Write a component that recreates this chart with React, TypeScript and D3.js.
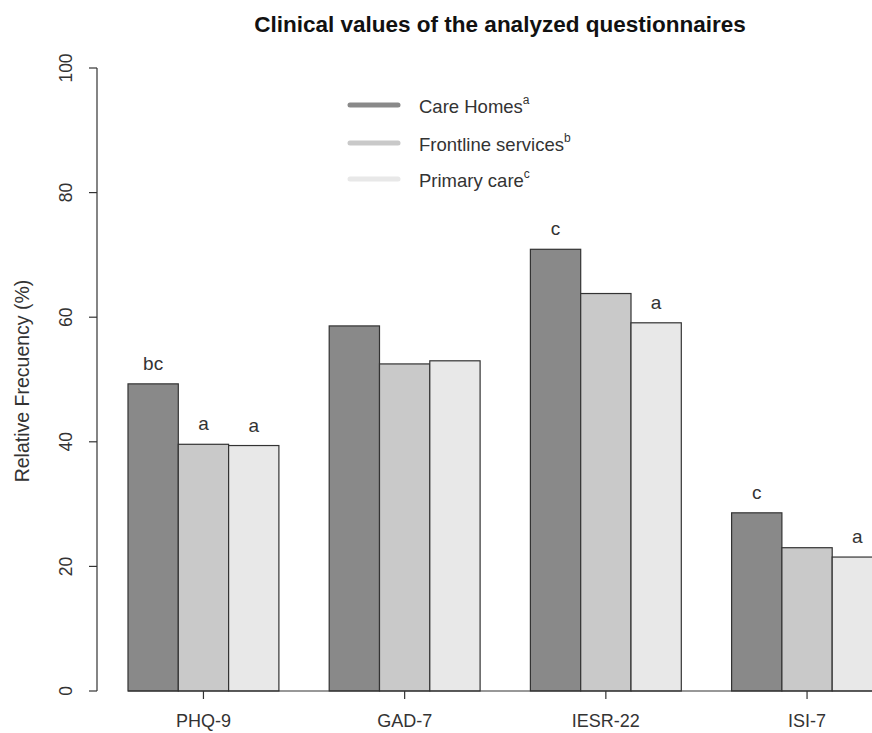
import React from "react";
import * as d3 from "d3";

const categories = ["PHQ-9", "GAD-7", "IESR-22", "ISI-7"];
const seriesNames = ["Care Homes", "Frontline services", "Primary care"];
const seriesSup = ["a", "b", "c"];
const careHomes = [49.3, 58.6, 70.9, 28.6];
const frontline = [39.6, 52.5, 63.8, 23.0];
const primary = [39.4, 53.0, 59.1, 21.5];
const sigCare = ["bc", "", "c", "c"];
const sigFront = ["a", "", "", ""];
const sigPrimary = ["a", "", "a", "a"];
const yTicks = [0, 20, 40, 60, 80, 100];

const colors = ["#898989", "#C9C9C9", "#E8E8E8"];
const W = 872;
const H = 733;
const FONT = "'Liberation Sans', Arial, sans-serif";
const TXT = "#333";

export default function App() {
  const series = [careHomes, frontline, primary];
  const sigs = [sigCare, sigFront, sigPrimary];
  const y = d3.scaleLinear().domain([0, 100]).range([691, 68]);
  // R barplot style: unit positions, 1 unit gap before each group
  const unit = 50.3;
  const x0 = 77.7;
  const xu = d3.scaleLinear().domain([0, 1]).range([x0, x0 + unit]);
  const barX = (g: number, s: number) => xu(g * 4 + 1 + s);
  const groupCenter = (g: number) => xu(g * 4 + 2.5);

  return (
    <svg width={W} height={H} style={{ display: "block", position: "absolute", left: 0, top: 0, background: "#fff" }} fontFamily={FONT}>
      <rect x={0} y={0} width={W} height={H} fill="#fff" />
      <text x={500} y={32} textAnchor="middle" fontSize={22.5} fontWeight="bold" fill="#111">
        Clinical values of the analyzed questionnaires
      </text>
      {/* bars */}
      {categories.map((c, g) =>
        series.map((vals, s) => (
          <rect
            key={c + s}
            x={barX(g, s)}
            y={y(vals[g])}
            width={unit}
            height={y(0) - y(vals[g])}
            fill={colors[s]}
            stroke="#333"
            strokeWidth={1.2}
          />
        ))
      )}
      {/* significance letters */}
      {categories.map((c, g) =>
        series.map((vals, s) =>
          sigs[s][g] ? (
            <text
              key={"sig" + c + s}
              x={barX(g, s) + unit / 2}
              y={y(vals[g]) - 14}
              textAnchor="middle"
              fontSize={19}
              fill={TXT}
            >
              {sigs[s][g]}
            </text>
          ) : null
        )
      )}
      {/* x baseline */}
      <line x1={barX(0, 0)} x2={W} y1={y(0)} y2={y(0)} stroke="#333" strokeWidth={1.2} />
      {/* x ticks and labels */}
      {categories.map((c, g) => (
        <g key={"xt" + c}>
          <line x1={groupCenter(g)} x2={groupCenter(g)} y1={y(0)} y2={y(0) + 8} stroke="#333" strokeWidth={1.2} />
          <text x={groupCenter(g)} y={727} textAnchor="middle" fontSize={18} fill={TXT}>
            {c}
          </text>
        </g>
      ))}
      {/* y axis */}
      <line x1={97} x2={97} y1={y(0)} y2={y(100)} stroke="#333" strokeWidth={1.2} />
      {yTicks.map((t) => (
        <g key={"yt" + t}>
          <line x1={89} x2={97} y1={y(t)} y2={y(t)} stroke="#333" strokeWidth={1.2} />
          <text
            transform={`translate(72,${y(t)}) rotate(-90)`}
            textAnchor="middle"
            fontSize={17.5}
            fill={TXT}
          >
            {t}
          </text>
        </g>
      ))}
      <text transform={`translate(29,381) rotate(-90)`} textAnchor="middle" fontSize={19.5} fill={TXT}>
        Relative Frecuency (%)
      </text>
      {/* legend */}
      {seriesNames.map((n, i) => {
        const ly = [105, 143, 179][i];
        return (
          <g key={"lg" + n}>
            <line x1={350} x2={398} y1={ly} y2={ly} stroke={colors[i]} strokeWidth={5} strokeLinecap="round" />
            <text x={419} y={ly + 8} fontSize={18.5} fill={TXT}>
              {n}
              <tspan dy={-9} fontSize={12}>
                {seriesSup[i]}
              </tspan>
            </text>
          </g>
        );
      })}
    </svg>
  );
}
